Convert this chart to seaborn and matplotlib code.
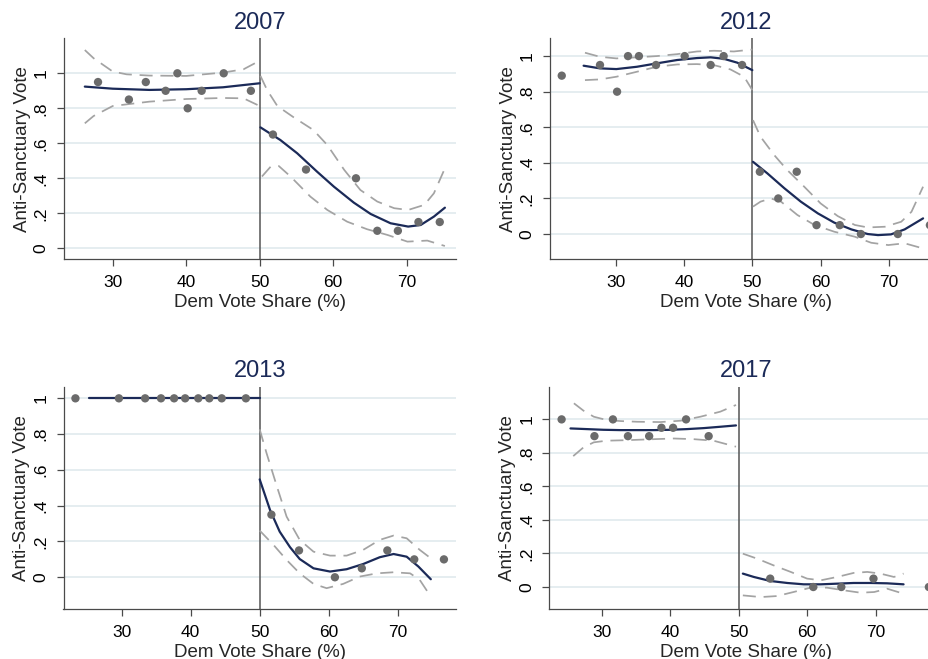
import matplotlib
matplotlib.use("Agg")
import matplotlib.pyplot as plt
import seaborn as sns
import pandas as pd

# ---------------- data ----------------
titles = ["2007", "2012", "2013", "2017"]
ytick_vals = [0, 0.2, 0.4, 0.6, 0.8, 1.0]
ytick_labels = ["0", ".2", ".4", ".6", ".8", "1"]
xtick_vals = [30, 40, 50, 60, 70]
cutoff = 50

# 2007 binned means
pts07_x = [28.0, 32.2, 34.5, 37.2, 38.8, 40.2, 42.1, 45.1, 48.8, 51.8, 56.3, 63.1, 66.0, 68.8, 71.6, 74.5]
pts07_y = [0.95, 0.85, 0.95, 0.90, 1.00, 0.80, 0.90, 1.00, 0.90, 0.65, 0.45, 0.40, 0.10, 0.10, 0.15, 0.15]
# 2007 fits
fit07L_x = [26.2, 30, 35, 40, 45, 50]
fit07L_y = [0.924, 0.912, 0.905, 0.909, 0.920, 0.943]
hi07L_x = [26.2, 27.4, 30, 31.9, 35, 40, 45, 47.8, 50]
hi07L_y = [1.133, 1.086, 1.010, 0.994, 0.987, 0.985, 1.004, 1.023, 1.072]
lo07L_x = [26.2, 27.4, 30, 35, 40, 45, 47.8, 50]
lo07L_y = [0.714, 0.756, 0.813, 0.838, 0.853, 0.859, 0.857, 0.813]
fit07R_x = [50.1, 52.8, 55.1, 57.8, 60.1, 62.8, 65.1, 67.8, 70.2, 71.9, 73.7, 75.2]
fit07R_y = [0.691, 0.619, 0.543, 0.438, 0.352, 0.261, 0.196, 0.143, 0.124, 0.133, 0.181, 0.232]
hi07R_x = [50.1, 51.0, 52.4, 54.6, 57.3, 59.2, 61.5, 63.7, 66.0, 68.3, 70.2, 72.4, 73.7, 75.2]
hi07R_y = [0.985, 0.905, 0.813, 0.749, 0.676, 0.590, 0.448, 0.333, 0.267, 0.229, 0.219, 0.248, 0.314, 0.457]
lo07R_x = [50.3, 51.5, 52.6, 54.2, 56.9, 59.2, 61.9, 64.6, 67.4, 70.1, 72.8, 75.2]
lo07R_y = [0.410, 0.467, 0.470, 0.410, 0.295, 0.219, 0.152, 0.109, 0.076, 0.038, 0.044, 0.013]

# 2012
pts12_x = [22.1, 27.7, 30.2, 31.8, 33.4, 35.9, 40.1, 43.9, 45.8, 48.5, 51.1, 53.8, 56.5, 59.4, 62.8, 65.9, 71.3, 76.0]
pts12_y = [0.89, 0.95, 0.80, 1.00, 1.00, 0.95, 1.00, 0.95, 1.00, 0.95, 0.35, 0.20, 0.35, 0.05, 0.05, 0.00, 0.00, 0.05]
fit12L_x = [25.3, 27.7, 30.1, 33.1, 36.0, 39.0, 41.9, 43.9, 45.8, 47.8, 50.0]
fit12L_y = [0.946, 0.931, 0.927, 0.940, 0.959, 0.978, 0.989, 0.993, 0.985, 0.963, 0.921]
hi12L_x = [25.5, 27.7, 30.1, 33.1, 36.0, 39.0, 41.9, 44.4, 47.3, 50.0]
hi12L_y = [1.019, 0.996, 0.987, 0.993, 1.000, 1.011, 1.026, 1.030, 1.026, 1.037]
lo12L_x = [25.5, 27.7, 30.1, 33.1, 36.0, 39.0, 41.9, 44.4, 46.8, 48.8, 50.0]
lo12L_y = [0.865, 0.869, 0.884, 0.912, 0.940, 0.953, 0.955, 0.949, 0.925, 0.884, 0.809]
fit12R_x = [50.1, 52.2, 54.7, 57.1, 59.6, 62.0, 64.5, 66.9, 68.4, 70.3, 72.3, 75.0]
fit12R_y = [0.406, 0.341, 0.257, 0.182, 0.116, 0.064, 0.026, 0.000, -0.006, -0.002, 0.026, 0.088]
hi12R_x = [50.1, 51.2, 53.2, 55.1, 57.6, 60.0, 62.5, 65.0, 66.9, 69.4, 71.8, 73.3, 75.0]
hi12R_y = [0.640, 0.547, 0.444, 0.360, 0.266, 0.172, 0.101, 0.051, 0.037, 0.041, 0.069, 0.125, 0.266]
lo12R_x = [50.1, 51.2, 52.7, 54.2, 56.6, 59.1, 62.0, 65.0, 67.4, 69.9, 72.3, 75.0]
lo12R_y = [0.154, 0.182, 0.200, 0.182, 0.107, 0.051, 0.013, -0.015, -0.049, -0.062, -0.052, -0.081]

# 2013
pts13_x = [23.3, 29.6, 33.4, 35.7, 37.6, 39.2, 41.1, 42.7, 44.5, 48.0, 51.7, 55.7, 60.9, 64.8, 68.5, 72.4, 76.7]
pts13_y = [1.00, 1.00, 1.00, 1.00, 1.00, 1.00, 1.00, 1.00, 1.00, 1.00, 0.35, 0.15, 0.00, 0.05, 0.15, 0.10, 0.10]
fit13L_x = [25.3, 50.0]
fit13L_y = [1.0, 1.0]
hi13L_x = [25.3, 50.0]
hi13L_y = [1.0, 1.0]
lo13L_x = [25.3, 50.0]
lo13L_y = [1.0, 1.0]
fit13R_x = [50.0, 51.5, 52.9, 54.4, 55.8, 57.8, 60.2, 62.6, 65.0, 67.4, 69.4, 71.3, 73.0, 74.8]
fit13R_y = [0.547, 0.376, 0.255, 0.168, 0.102, 0.050, 0.032, 0.045, 0.074, 0.112, 0.130, 0.115, 0.060, -0.011]
hi13R_x = [50.0, 51.0, 52.5, 53.9, 55.8, 57.8, 60.2, 62.6, 65.0, 67.4, 69.4, 71.3, 73.2, 74.8]
hi13R_y = [0.827, 0.693, 0.507, 0.339, 0.209, 0.143, 0.121, 0.121, 0.153, 0.209, 0.233, 0.218, 0.153, 0.106]
lo13R_x = [50.0, 52.0, 53.9, 55.8, 57.8, 59.7, 62.1, 64.5, 67.0, 69.4, 71.8, 73.2, 74.8]
lo13R_y = [0.261, 0.181, 0.097, 0.022, -0.037, -0.061, -0.037, 0.004, 0.022, 0.028, 0.022, -0.015, -0.108]

# 2017
pts17_x = [24.1, 28.9, 31.6, 33.8, 36.9, 38.7, 40.4, 42.3, 45.6, 54.6, 60.9, 65.0, 69.7, 77.8]
pts17_y = [1.00, 0.90, 1.00, 0.90, 0.90, 0.95, 0.95, 1.00, 0.90, 0.05, 0.00, 0.00, 0.05, 0.00]
fit17L_x = [25.4, 27.8, 30.2, 32.7, 35.1, 37.6, 40.0, 42.4, 44.9, 47.3, 49.6]
fit17L_y = [0.946, 0.942, 0.938, 0.936, 0.936, 0.936, 0.938, 0.942, 0.948, 0.956, 0.964]
hi17L_x = [25.9, 27.3, 28.8, 30.7, 32.7, 35.1, 38.5, 41.5, 44.4, 47.3, 49.6]
hi17L_y = [1.096, 1.052, 1.016, 0.996, 0.990, 0.986, 0.984, 0.992, 1.016, 1.046, 1.086]
lo17L_x = [25.8, 27.3, 28.8, 30.7, 33.7, 37.6, 40.5, 43.4, 46.3, 49.6]
lo17L_y = [0.781, 0.833, 0.863, 0.873, 0.876, 0.882, 0.886, 0.882, 0.873, 0.837]
fit17R_x = [50.6, 52.2, 54.6, 57.1, 59.5, 62.0, 64.4, 66.8, 69.3, 71.7, 74.1]
fit17R_y = [0.080, 0.060, 0.036, 0.024, 0.016, 0.016, 0.020, 0.024, 0.024, 0.022, 0.016]
hi17R_x = [50.6, 52.7, 55.1, 57.6, 60.0, 62.0, 64.4, 66.8, 68.8, 70.7, 72.7, 74.1]
hi17R_y = [0.199, 0.169, 0.129, 0.090, 0.050, 0.040, 0.060, 0.084, 0.090, 0.080, 0.060, 0.080]
lo17R_x = [50.6, 53.2, 55.6, 58.0, 60.5, 62.9, 65.4, 67.8, 69.8, 71.7, 74.1]
lo17R_y = [-0.050, -0.060, -0.054, -0.030, -0.004, -0.004, -0.020, -0.034, -0.030, -0.010, -0.040]

# ---------------- style ----------------
sns.set_theme(style="white")
plt.rcParams["font.family"] = ["Liberation Sans", "DejaVu Sans"]

NAVY = "#1b2a58"
DOT = "#6b6b6b"
CI = "#a3a3a3"
GRID = "#e3ecef"
AXC = "#4a4a4a"

W, H = 929, 659
fig = plt.figure(figsize=(W / 100, H / 100), dpi=100)

# axes boxes in pixels: left, top, width, height
boxes = [(64, 38.3, 392, 221), (550, 38.3, 392, 221),
         (63.5, 386.7, 392.5, 222.6), (549.5, 386.7, 392.5, 222.6)]
xlims = [(23.37, 76.71), (20.38, 77.77), (21.57, 78.45), (22.33, 79.72)]
ylims = [(-0.063, 1.2), (-0.142, 1.1), (-0.179, 1.065), (-0.133, 1.195)]

panels = [
    (pts07_x, pts07_y, [(fit07L_x, fit07L_y, hi07L_x, hi07L_y, lo07L_x, lo07L_y),
                        (fit07R_x, fit07R_y, hi07R_x, hi07R_y, lo07R_x, lo07R_y)]),
    (pts12_x, pts12_y, [(fit12L_x, fit12L_y, hi12L_x, hi12L_y, lo12L_x, lo12L_y),
                        (fit12R_x, fit12R_y, hi12R_x, hi12R_y, lo12R_x, lo12R_y)]),
    (pts13_x, pts13_y, [(fit13L_x, fit13L_y, hi13L_x, hi13L_y, lo13L_x, lo13L_y),
                        (fit13R_x, fit13R_y, hi13R_x, hi13R_y, lo13R_x, lo13R_y)]),
    (pts17_x, pts17_y, [(fit17L_x, fit17L_y, hi17L_x, hi17L_y, lo17L_x, lo17L_y),
                        (fit17R_x, fit17R_y, hi17R_x, hi17R_y, lo17R_x, lo17R_y)]),
]

for i, (title, (px, py, sides)) in enumerate(zip(titles, panels)):
    l, t, w, h = boxes[i]
    ax = fig.add_axes([l / W, 1 - (t + h) / H, w / W, h / H])
    ax.set_xlim(*xlims[i])
    ax.set_ylim(*ylims[i])

    # grid
    for yv in ytick_vals:
        ax.axhline(yv, color=GRID, lw=1.3, zorder=0)

    # cutoff line
    ax.axvline(cutoff, color="#555555", lw=1.1, zorder=1)

    # CI and fit lines
    for fx, fy, hx, hy, lx, ly in sides:
        for cx, cy in ((hx, hy), (lx, ly)):
            sns.lineplot(x=cx, y=cy, ax=ax, color=CI, lw=1.25, sort=False,
                         estimator=None, linestyle=(0, (7.5, 4.5)), zorder=2)
        sns.lineplot(x=fx, y=fy, ax=ax, color=NAVY, lw=1.6, sort=False,
                     estimator=None, zorder=3)

    # points
    sns.scatterplot(x=px, y=py, ax=ax, color=DOT, s=36, edgecolor="none",
                    zorder=4, clip_on=True)

    ax.set_yticks(ytick_vals)
    ax.set_yticklabels(ytick_labels, rotation=90, va="center")
    ax.set_xticks(xtick_vals)
    ax.set_xticklabels([str(v) for v in xtick_vals])
    ax.tick_params(axis="both", direction="out", length=5, width=0.9,
                   color=AXC, labelsize=12.5, labelcolor="black", pad=6,
                   bottom=True, left=True)
    for s in ("top", "right"):
        ax.spines[s].set_visible(False)
    for s in ("left", "bottom"):
        ax.spines[s].set_color(AXC)
        ax.spines[s].set_linewidth(0.9)

    ax.set_xlabel("Dem Vote Share (%)", fontsize=13.5, labelpad=3)
    ax.set_ylabel("Anti-Sanctuary Vote", fontsize=13.5, labelpad=2)
    ax.set_title(title, fontsize=17, color=NAVY, pad=7)

fig.savefig("out.png", dpi=100)
